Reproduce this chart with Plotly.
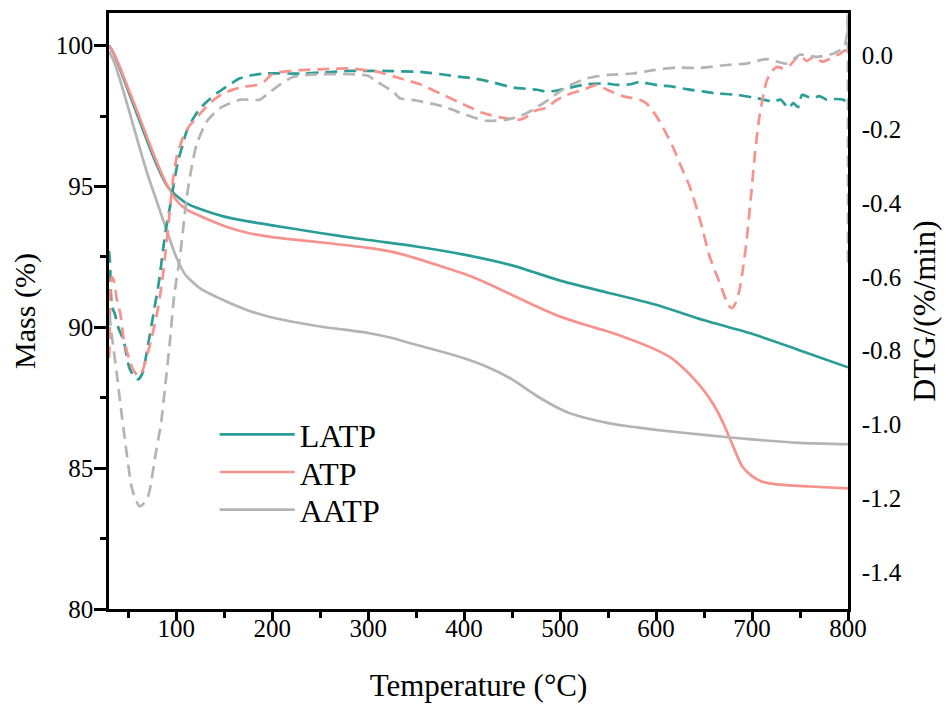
import plotly.graph_objects as go

# ---------------- data ----------------
# Mass (%) curves (solid, left axis)
latp_mass_T = [30, 33, 40, 50, 60, 70, 80, 90, 94.5, 100, 110, 125, 150, 175, 200, 250, 300, 350, 400, 450,
               500, 550, 600, 650, 700, 750, 800]
latp_mass = [100.0, 99.85, 99.3, 98.4, 97.5, 96.6, 95.75, 95.05, 94.86, 94.68, 94.42, 94.2, 93.93, 93.76, 93.62,
             93.35, 93.1, 92.87, 92.58, 92.2, 91.66, 91.23, 90.8, 90.25, 89.77, 89.18, 88.58]

atp_mass_T = [30, 33, 40, 50, 60, 70, 80, 90, 94.5, 100, 110, 125, 150, 175, 200, 250, 300, 325, 350, 375, 400,
              425, 450, 475, 500, 525, 550, 575, 600, 615, 630, 640, 650, 660, 670, 680, 690, 700, 710, 720,
              735, 760, 800]
atp_mass = [100.0, 99.85, 99.35, 98.48, 97.62, 96.72, 95.85, 95.08, 94.84, 94.52, 94.2, 93.95, 93.6, 93.35, 93.2,
            93.02, 92.82, 92.68, 92.45, 92.18, 91.9, 91.55, 91.15, 90.75, 90.38, 90.1, 89.85, 89.55, 89.2,
            88.93, 88.5, 88.15, 87.75, 87.25, 86.6, 85.8, 85.05, 84.72, 84.53, 84.45, 84.4, 84.35, 84.28]

aatp_mass_T = [30, 35, 40, 50, 60, 70, 80, 90, 100, 110, 125, 150, 175, 200, 250, 300, 325, 350, 375, 400, 425,
               450, 475, 490, 500, 510, 525, 550, 575, 600, 650, 700, 750, 800]
aatp_mass = [99.8, 99.45, 98.95, 97.8, 96.6, 95.45, 94.45, 93.45, 92.5, 91.85, 91.38, 90.95, 90.6, 90.35, 90.03,
             89.8, 89.62, 89.38, 89.15, 88.9, 88.58, 88.15, 87.58, 87.28, 87.1, 86.95, 86.8, 86.6, 86.47, 86.36,
             86.18, 86.02, 85.9, 85.85]

# DTG (%/min) curves (dashed, right axis)
latp_dtg_T = [30, 31, 33, 36, 40, 45, 51, 56, 60.5, 65, 71, 77, 82.4, 86, 90, 93.5, 98, 102, 107, 111, 118, 125,
              135, 142, 155, 166.5, 180, 194, 229, 260, 281, 315, 357, 382, 396, 410, 430, 451, 476, 486, 497,
              507, 528, 548, 560, 573, 583, 592, 605, 614, 633, 650, 660, 684, 705, 722, 730, 738, 743, 748, 752,
              758, 764, 770, 778, 787, 795, 800]
latp_dtg = [-0.53, -0.56, -0.68, -0.70, -0.74, -0.77, -0.845, -0.87, -0.878, -0.86, -0.78, -0.69, -0.608, -0.532,
            -0.46, -0.411, -0.34, -0.286, -0.24, -0.205, -0.17, -0.143, -0.118, -0.103, -0.08, -0.062, -0.053,
            -0.049, -0.049, -0.045, -0.042, -0.042, -0.045, -0.053, -0.058, -0.062, -0.073, -0.087, -0.093,
            -0.098, -0.095, -0.089, -0.078, -0.076, -0.080, -0.078, -0.072, -0.076, -0.082, -0.083, -0.092,
            -0.098, -0.102, -0.107, -0.116, -0.125, -0.12, -0.143, -0.129, -0.14, -0.107, -0.112, -0.116, -0.11,
            -0.12, -0.118, -0.12, -0.13]

atp_dtg_T = [30, 30.5, 31.5, 33, 35.7, 38, 41.8, 45.4, 52, 56, 60.5, 64, 69, 74, 80, 85, 89, 93, 97, 101, 107,
             114, 121, 135, 149, 160, 170, 184, 192, 201, 229, 255, 281, 309, 333, 354, 375, 399, 420, 438, 458,
             466, 472, 486, 497, 507, 524, 538, 549, 566, 583, 590, 597, 604, 611, 618, 625, 635.5, 646, 656,
             666.5, 675, 679, 683, 687, 691, 694, 699.5, 703, 708, 715, 720, 726, 732, 740, 745, 750, 757, 764,
             773, 780, 785, 792, 797, 800]
atp_dtg = [-0.82, -0.79, -0.64, -0.60, -0.616, -0.66, -0.70, -0.769, -0.831, -0.855, -0.868, -0.86, -0.82, -0.77,
           -0.70, -0.62, -0.53, -0.43, -0.33, -0.27, -0.223, -0.19, -0.17, -0.129, -0.103, -0.092, -0.085, -0.080,
           -0.07, -0.049, -0.040, -0.037, -0.035, -0.044, -0.062, -0.078, -0.103, -0.132, -0.156, -0.168,
           -0.174, -0.165, -0.152, -0.141, -0.12, -0.107, -0.093, -0.080, -0.093, -0.111, -0.120, -0.13, -0.152,
           -0.18, -0.214, -0.25, -0.295, -0.358, -0.447, -0.546, -0.617, -0.675, -0.685, -0.67, -0.635, -0.57,
           -0.51, -0.366, -0.268, -0.161, -0.071, -0.045, -0.031, -0.035, -0.026, -0.01, 0.0, -0.015, -0.004,
           -0.017, -0.01, -0.004, 0.005, 0.014, 0.0]

aatp_dtg_T = [30.5, 32, 35, 38, 42.5, 47, 53.6, 58, 62, 66, 70, 72.7, 77.9, 84.2, 88.3, 93.5, 98, 104, 111, 116,
              121.3, 131.8, 145.7, 166.5, 187, 195, 205, 222, 250, 281, 300, 309, 326, 333, 350, 378, 402, 423,
              444, 458, 472, 490, 507, 528, 549, 576, 597, 621, 646, 674, 694, 715, 736, 750, 767, 785, 796, 799,
              799.6, 800]
aatp_dtg = [-0.70, -0.74, -0.80, -0.86, -0.958, -1.05, -1.17, -1.205, -1.222, -1.215, -1.2, -1.175, -1.091,
            -0.997, -0.903, -0.774, -0.648, -0.544, -0.384, -0.304, -0.241, -0.179, -0.143, -0.120, -0.120,
            -0.105, -0.085, -0.058, -0.051, -0.051, -0.055, -0.071, -0.098, -0.116, -0.122, -0.138, -0.161,
            -0.177, -0.174, -0.165, -0.147, -0.116, -0.085, -0.062, -0.053, -0.049, -0.040, -0.033, -0.034,
            -0.026, -0.022, -0.010, -0.022, 0.002, -0.004, 0.005, 0.023, 0.06, 0.11, -0.58]

x_tickvals = [100, 200, 300, 400, 500, 600, 700, 800]
y_tickvals = [80, 85, 90, 95, 100]
y2_tickvals = [0.0, -0.2, -0.4, -0.6, -0.8, -1.0, -1.2, -1.4]
y2_ticktext = ["0.0", "-0.2", "-0.4", "-0.6", "-0.8", "-1.0", "-1.2", "-1.4"]

# ---------------- styling ----------------
C_LATP = "#2a9d96"
C_ATP = "#f7928d"
C_AATP = "#b4b4b4"
FONT = "Liberation Serif"
DASH = "12px,7px"

fig = go.Figure()

for T, v, c in [(latp_dtg_T, latp_dtg, C_LATP), (atp_dtg_T, atp_dtg, C_ATP), (aatp_dtg_T, aatp_dtg, C_AATP)]:
    fig.add_trace(go.Scatter(x=T, y=v, mode="lines", yaxis="y2", showlegend=False,
                             line=dict(color=c, width=2.7, dash=DASH, shape="spline", smoothing=0.6),
                             hoverinfo="skip"))

for name, T, v, c, lg in [("LATP", latp_mass_T, latp_mass, C_LATP, "legend"),
                          ("ATP", atp_mass_T, atp_mass, C_ATP, "legend2"),
                          ("AATP", aatp_mass_T, aatp_mass, C_AATP, "legend3")]:
    fig.add_trace(go.Scatter(x=T, y=v, mode="lines", name=name, legend=lg,
                             line=dict(color=c, width=2.7, shape="spline", smoothing=0.6)))

axis_common = dict(showline=True, linecolor="black", linewidth=2.5, showgrid=False, zeroline=False,
                   tickfont=dict(family=FONT, size=25, color="black"))

legend_common = dict(x=0.143, xanchor="left", yanchor="middle", bgcolor="rgba(0,0,0,0)",
                     font=dict(family=FONT, size=32, color="black"), itemwidth=75)

fig.update_layout(
    width=948, height=707,
    margin=dict(l=109, r=100, t=10, b=96),
    paper_bgcolor="white", plot_bgcolor="white",
    font=dict(family=FONT, color="black"),
    xaxis=dict(range=[30, 800], tickvals=x_tickvals, ticks="outside", ticklen=9, tickwidth=2.5,
               tickcolor="black", mirror=True, ticklabelstandoff=-14,
               minor=dict(tickvals=[50, 150, 250, 350, 450, 550, 650, 750], ticks="outside", ticklen=6,
                          tickwidth=2.5, tickcolor="black"),
               title=dict(text="Temperature (°C)", font=dict(family=FONT, size=31, color="black"), standoff=34),
               **axis_common),
    yaxis=dict(range=[80, 101.16], tickvals=y_tickvals, ticks="outside", ticklen=12, tickwidth=2.5,
               tickcolor="black", mirror=False, ticklabelstandoff=-4,
               minor=dict(tickvals=[82.5, 87.5, 92.5, 97.5], ticks="outside", ticklen=6, tickwidth=2.5,
                          tickcolor="black"),
               title=dict(text="Mass (%)", font=dict(family=FONT, size=30, color="black"), standoff=12),
               **axis_common),
    yaxis2=dict(range=[-1.5, 0.115], tickvals=y2_tickvals, ticktext=y2_ticktext, overlaying="y", side="right",
                ticks="", ticklabelstandoff=6,
                title=dict(text="DTG/(%/min)", font=dict(family=FONT, size=32, color="black"), standoff=12),
                **axis_common),
    legend=dict(y=0.2925, **legend_common),
    legend2=dict(y=0.2295, **legend_common),
    legend3=dict(y=0.1665, **legend_common),
)

fig.write_html("out.html")
